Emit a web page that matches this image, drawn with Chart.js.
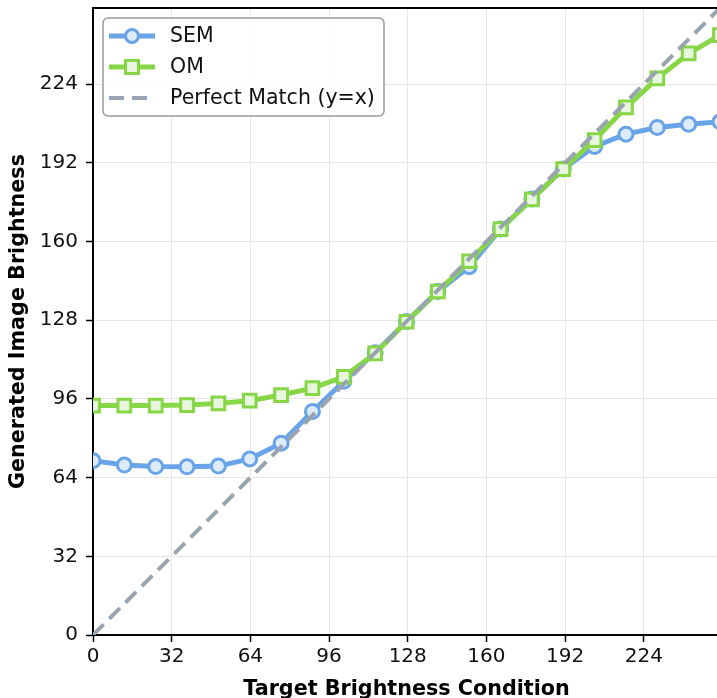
<!DOCTYPE html>
<html>
<head>
<meta charset="utf-8">
<script src="https://cdn.jsdelivr.net/npm/chart.js@4.4.0/dist/chart.umd.min.js"></script>
<style>
  html, body { margin: 0; padding: 0; background: #fff; overflow: hidden; }
  #wrap { width: 722px; height: 704px; }
</style>
</head>
<body>
<div id="wrap"><canvas id="brightChart" width="722" height="704"></canvas></div>
<script>
// ── Data ─────────────────────────────────────
const TARGET = [0, 12.75, 25.5, 38.25, 51, 63.75, 76.5, 89.25, 102, 114.75, 127.5,
                140.25, 153, 165.75, 178.5, 191.25, 204, 216.75, 229.5, 242.25, 255];
const SEM = [70.9, 69.1, 68.5, 68.4, 68.7, 71.6, 78.0, 90.9, 103.2, 114.8, 127.5,
             139.7, 149.8, 165.1, 177.3, 189.5, 198.7, 203.7, 206.4, 207.7, 208.7];
const OM  = [93.3, 93.3, 93.3, 93.5, 94.2, 95.3, 97.6, 100.4, 105.0, 114.5, 127.4,
             139.7, 152.0, 165.1, 177.2, 189.5, 201.3, 214.6, 226.4, 236.5, 244.0];
const PERFECT_X = [0, 255];
const PERFECT_Y = [0, 255];
const X_TICKS = [0, 32, 64, 96, 128, 160, 192, 224];
const Y_TICKS = [0, 32, 64, 96, 128, 160, 192, 224];

const BLUE  = 'rgb(106, 164, 232)';
const GREEN = 'rgb(134, 214, 70)';
const GRAY  = 'rgb(152, 164, 176)';

const pts = (xs, ys) => xs.map((x, i) => ({ x, y: ys[i] }));

Chart.defaults.font.family = "'DejaVu Sans', sans-serif";
Chart.defaults.font.size = 20;
Chart.defaults.color = '#111';

// ── Top spine + in-plot legend ───────────────
const frame = {
  id: 'frame',
  afterDraw(chart) {
    const { ctx, chartArea: a } = chart;
    ctx.save();
    ctx.strokeStyle = '#000';
    ctx.lineWidth = 2;
    ctx.beginPath();
    ctx.moveTo(a.left - 1, a.top);
    ctx.lineTo(a.right + 2, a.top);
    ctx.stroke();

    // legend box
    const x0 = a.left + 10, y0 = a.top + 10, w = 281, h = 98, r = 5;
    ctx.beginPath();
    ctx.roundRect(x0, y0, w, h, r);
    ctx.fillStyle = 'rgba(255,255,255,0.85)';
    ctx.fill();
    ctx.strokeStyle = '#9a9a9a';
    ctx.lineWidth = 1.5;
    ctx.stroke();

    const rows = [
      { label: 'SEM', color: BLUE, fill: 'rgb(222,236,250)', marker: 'circle' },
      { label: 'OM', color: GREEN, fill: 'rgb(232,246,222)', marker: 'rect' },
      { label: 'Perfect Match (y=x)', color: GRAY, dash: true }
    ];
    rows.forEach((row, i) => {
      const y = y0 + 18 + i * 31;
      const lx = x0 + 6, rx = x0 + 52, mx = x0 + 29;
      ctx.strokeStyle = row.color;
      ctx.lineWidth = row.dash ? 4 : 5;
      ctx.setLineDash(row.dash ? [15, 8] : []);
      ctx.beginPath();
      ctx.moveTo(lx, y);
      ctx.lineTo(rx, y);
      ctx.stroke();
      ctx.setLineDash([]);
      if (row.marker === 'circle') {
        ctx.beginPath();
        ctx.arc(mx, y, 6.5, 0, Math.PI * 2);
        ctx.fillStyle = row.fill;
        ctx.fill();
        ctx.lineWidth = 3;
        ctx.stroke();
      } else if (row.marker === 'rect') {
        ctx.beginPath();
        ctx.rect(mx - 6.5, y - 6.5, 13, 13);
        ctx.fillStyle = row.fill;
        ctx.fill();
        ctx.lineWidth = 3;
        ctx.stroke();
      }
      ctx.fillStyle = '#111';
      ctx.font = "20.5px 'DejaVu Sans', sans-serif";
      ctx.textBaseline = 'middle';
      ctx.textAlign = 'left';
      ctx.fillText(row.label, x0 + 67, y + 1);
    });
    ctx.restore();
  }
};

new Chart(document.getElementById('brightChart'), {
  type: 'line',
  data: {
    datasets: [
      {
        label: 'SEM',
        data: pts(TARGET, SEM),
        borderColor: BLUE,
        backgroundColor: 'rgb(222,236,250)',
        borderWidth: 5,
        pointStyle: 'circle',
        pointRadius: 7,
        pointBorderWidth: 3,
        pointBorderColor: BLUE,
        pointBackgroundColor: 'rgb(222,236,250)',
        tension: 0,
        order: 2
      },
      {
        label: 'OM',
        data: pts(TARGET, OM),
        borderColor: GREEN,
        backgroundColor: 'rgb(232,246,222)',
        borderWidth: 5,
        pointStyle: 'rect',
        pointRadius: 9,
        pointBorderWidth: 3,
        pointBorderColor: GREEN,
        pointBackgroundColor: 'rgb(232,246,222)',
        tension: 0,
        order: 1
      },
      {
        label: 'Perfect Match (y=x)',
        data: pts(PERFECT_X, PERFECT_Y),
        borderColor: GRAY,
        borderWidth: 4,
        borderDash: [15, 8],
        pointRadius: 0,
        order: 0
      }
    ]
  },
  options: {
    responsive: false,
    animation: false,
    layout: { autoPadding: false, padding: { top: 8, right: 2, left: 0, bottom: 0 } },
    plugins: {
      legend: { display: false },
      tooltip: { enabled: false }
    },
    scales: {
      x: {
        type: 'linear',
        min: 0,
        max: 255,
        afterBuildTicks(scale) { scale.ticks = X_TICKS.map(v => ({ value: v })); },
        afterFit(scale) {
          scale.height = 69;
          scale.paddingLeft = 0;
          scale.paddingRight = 0;
        },
        ticks: { padding: 3, color: '#111', maxRotation: 0 },
        grid: { color: '#e6e6e6', lineWidth: 1, tickColor: '#000', tickLength: 7, tickWidth: 1.5 },
        border: { color: '#000', width: 2 },
        title: {
          display: true,
          text: 'Target Brightness Condition',
          font: { size: 20.7, weight: 'bold' },
          color: '#000',
          padding: { top: 0, bottom: 2 }
        }
      },
      y: {
        type: 'linear',
        min: 0,
        max: 255,
        afterBuildTicks(scale) { scale.ticks = Y_TICKS.map(v => ({ value: v })); },
        afterFit(scale) {
          scale.width = 93;
          scale.paddingTop = 0;
          scale.paddingBottom = 0;
        },
        ticks: { padding: 8, color: '#111' },
        grid: { color: '#e6e6e6', lineWidth: 1, tickColor: '#000', tickLength: 7, tickWidth: 1.5 },
        border: { color: '#000', width: 2 },
        title: {
          display: true,
          text: 'Generated Image Brightness',
          font: { size: 20.7, weight: 'bold' },
          color: '#000',
          padding: { top: 6, bottom: 0 }
        }
      }
    }
  },
  plugins: [frame]
});
</script>
</body>
</html>
